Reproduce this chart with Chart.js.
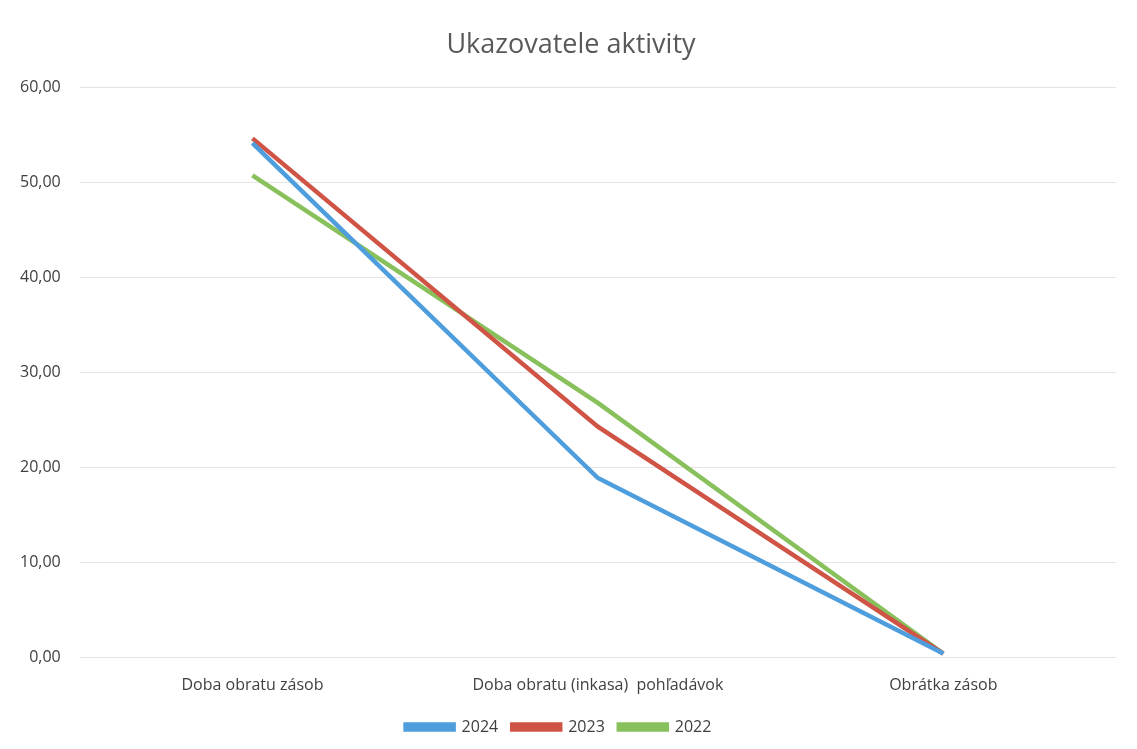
<!DOCTYPE html>
<html><head><meta charset="utf-8">
<script src="https://cdn.jsdelivr.net/npm/chart.js@4/dist/chart.umd.min.js"></script>
<style>html,body{margin:0;padding:0;background:#fff;}#wrap{width:1137px;height:749px;position:relative;}</style>
</head><body><div id="wrap"><canvas id="c" width="1137" height="749"></canvas></div>
<script>
const titleText = "Ukazovatele aktivity";
const categories = ["Doba obratu zásob", "Doba obratu (inkasa)  pohľadávok", "Obrátka zásob"];
const seriesNames = ["2024", "2023", "2022"];
const values2024 = [54.1, 18.9, 0.45];
const values2023 = [54.6, 24.3, 0.45];
const values2022 = [50.7, 26.8, 0.45];
const yTicks = [0, 10, 20, 30, 40, 50, 60];
const colors = ["#4e9ddc", "#cf5446", "#88c05c"];

const ds = [values2024, values2023, values2022].map((v, i) => ({
  label: seriesNames[i], data: v, borderColor: colors[i], backgroundColor: colors[i],
  borderWidth: 4.5, pointRadius: 0, tension: 0, fill: false
}));

const titlePlugin = {
  id: 'offsetTitle',
  afterDraw(chart) {
    const ctx = chart.ctx;
    ctx.save();
    ctx.font = "27px 'Open Sans'";
    ctx.fillStyle = "#595959";
    ctx.textAlign = "center";
    ctx.textBaseline = "middle";
    ctx.fillText(titleText, 571, 45);
    ctx.restore();
  }
};

new Chart(document.getElementById('c'), {
  type: 'line',
  data: { labels: categories, datasets: ds },
  plugins: [titlePlugin],
  options: {
    responsive: false, animation: false,
    layout: { padding: { left: 1, right: 21, top: 87, bottom: 4 } },
    plugins: {
      title: { display: false },
      legend: { position: 'bottom', labels: { color: "#404040", font: { family: "Open Sans", size: 16 },
        boxWidth: 48, boxHeight: 5, padding: 14 } },
      tooltip: { enabled: false }
    },
    scales: {
      x: { offset: true, grid: { display: false }, border: { display: false },
        ticks: { color: "#404040", font: { family: "Open Sans", size: 16 }, padding: 10, maxRotation: 0 } },
      y: { min: 0, max: 60, afterBuildTicks: a => { a.ticks = yTicks.map(v => ({ value: v })); },
        grid: { color: "#e4e4e4", lineWidth: 1, drawTicks: false }, border: { display: false },
        ticks: { color: "#404040", font: { family: "Open Sans", size: 16 }, padding: 19,
          callback: v => v.toFixed(2).replace('.', ',') } }
    }
  }
});
</script></body></html>
